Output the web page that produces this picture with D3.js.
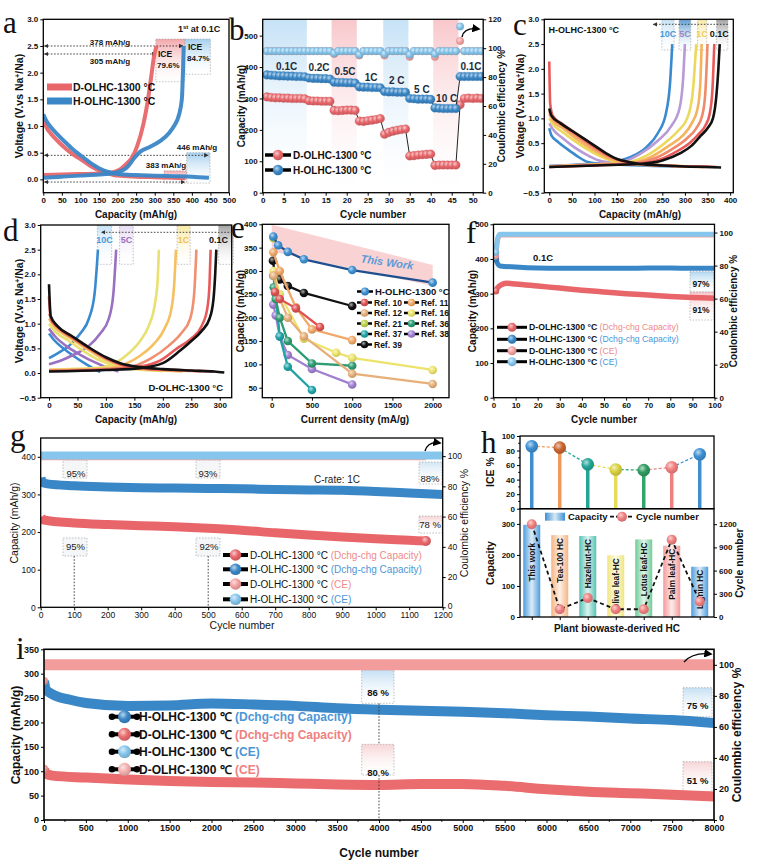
<!DOCTYPE html>
<html><head><meta charset="utf-8">
<script src="https://cdn.jsdelivr.net/npm/d3@7/dist/d3.min.js"></script>
<style>html,body{margin:0;padding:0;background:#fff}</style>
</head><body>
<svg id="fig" width="759" height="865" xmlns="http://www.w3.org/2000/svg"></svg>
<script>
// ================= DATA =================
// (a) first cycle GCD at 0.1C  [capacity mAh/g, voltage V]
const aD_discharge=[[0,1.15],[8,0.98],[20,0.86],[40,0.71],[60,0.58],[80,0.47],[100,0.38],[125,0.26],[150,0.17],[175,0.11],[200,0.07],[250,0.05],[300,0.04],[350,0.03],[383,0.02]];
const aH_discharge=[[0,1.22],[8,1.1],[20,0.98],[40,0.83],[60,0.69],[80,0.56],[100,0.45],[125,0.32],[150,0.21],[175,0.14],[200,0.1],[250,0.08],[300,0.07],[350,0.06],[400,0.05],[446,0.03]];
const aD_charge=[[0,0.08],[50,0.09],[100,0.1],[150,0.11],[185,0.13],[205,0.18],[225,0.3],[238,0.4],[252,0.61],[270,1.05],[282,1.5],[292,2.0],[298,2.3],[305,2.5]];
const aH_charge=[[0,0.03],[50,0.05],[100,0.07],[150,0.09],[190,0.12],[210,0.16],[225,0.22],[245,0.4],[261,0.52],[288,0.61],[315,0.72],[340,0.88],[352,1.0],[365,1.2],[373,1.5],[376,2.0],[378,2.5]];

// (b) rate performance
const bRateLabels=['0.1C','0.2C','0.5C','1C','2 C','5 C','10 C','0.1C'];
const bD_cap=[305,303,302,302,301,301,300,300,300,299, 293,292,292,291,291,291, 262,261,262,263,263,262, 228,227,229,231,233,236, 186,192,196,199,201,203, 117,118,120,121,122,123, 87,88,88,88,88,88, 280,300,301,300,301,300];
const bH_cap=[375,374,373,372,372,371,371,370,370,369, 365,364,364,363,363,362, 352,351,351,350,350,349, 337,336,336,335,335,334, 322,321,321,320,320,320, 300,299,298,298,298,297, 270,269,268,268,268,268, 370,370,370,370,370,370];
const bH_ce=[98,98,98,98,98,98,98,98,98,98, 98,98,98,98,98,98, 96.5,98,98,98,98,98, 95.5,98,98,98,98,98, 96,98,98,98,98,98, 95.5,98,98,98,98,98, 96,98,98,98,98,98, 115,98,98,98,98,98];
const bD_ce=[98,98,98,98,98,98,98,98,98,98, 98,98,98,98,98,98, 96,98,98,98,98,98, 95,98,98,98,98,98, 95,98,98,98,98,98, 94,98,98,98,98,98, 94,98,98,98,98,98, 105,98,98,98,98,98];

// (c) H-OLHC-1300 GCD at rates  (0.1C .. 10C)
const cRates=['0.1C','0.2C','0.5C','1C','2C','5C','10C'];
const cCharge=[
 [[0,0.02],[100,0.05],[200,0.08],[250,0.15],[290,0.3],[315,0.45],[335,0.65],[350,0.8],[362,1.0],[370,1.5],[374,2.0],[377,2.5]],
 [[0,0.02],[100,0.05],[200,0.09],[245,0.17],[285,0.35],[310,0.5],[330,0.68],[345,0.85],[355,1.1],[361,1.6],[365,2.5]],
 [[0,0.02],[100,0.06],[190,0.1],[235,0.2],[275,0.4],[305,0.6],[325,0.8],[338,1.05],[345,1.5],[350,2.5]],
 [[0,0.03],[100,0.07],[180,0.1],[225,0.22],[265,0.45],[295,0.65],[315,0.9],[328,1.2],[334,1.7],[337,2.5]],
 [[0,0.03],[100,0.07],[170,0.11],[215,0.25],[255,0.5],[285,0.75],[305,1.0],[317,1.5],[325,2.5]],
 [[0,0.04],[100,0.08],[160,0.12],[200,0.28],[240,0.55],[270,0.85],[288,1.2],[296,1.8],[300,2.5]],
 [[0,0.04],[80,0.08],[140,0.12],[180,0.22],[215,0.42],[240,0.7],[258,1.1],[267,1.7],[272,2.5]]];
const cDischarge=[
 [[0,1.2],[5,1.05],[25,0.9],[50,0.75],[75,0.6],[100,0.45],[125,0.3],[150,0.18],[175,0.12],[200,0.08],[250,0.05],[300,0.03],[350,0.02],[380,0.01]],
 [[0,2.15],[2,1.3],[8,1.05],[30,0.88],[55,0.72],[80,0.56],[105,0.4],[130,0.26],[155,0.16],[180,0.11],[220,0.07],[280,0.04],[330,0.03],[370,0.02]],
 [[0,1.15],[8,1.0],[30,0.85],[55,0.68],[80,0.52],[105,0.37],[130,0.24],[155,0.15],[190,0.09],[250,0.05],[300,0.03],[355,0.02]],
 [[0,1.1],[8,0.95],[30,0.8],[55,0.62],[80,0.46],[105,0.32],[130,0.2],[160,0.12],[200,0.08],[260,0.05],[340,0.02]],
 [[0,1.0],[8,0.88],[30,0.72],[55,0.55],[80,0.4],[105,0.27],[130,0.17],[165,0.1],[220,0.06],[280,0.04],[328,0.02]],
 [[0,0.9],[8,0.78],[30,0.6],[55,0.42],[80,0.28],[110,0.15],[140,0.1],[180,0.07],[240,0.05],[303,0.03]],
 [[0,0.8],[5,0.65],[20,0.52],[40,0.38],[60,0.25],[85,0.12],[120,0.08],[170,0.06],[230,0.04],[275,0.03]]];

// (d) D-OLHC-1300 GCD at rates (0.1C .. 10C)
const dCharge=[
 [[0,0.03],[100,0.06],[160,0.1],[200,0.2],[230,0.45],[250,0.65],[268,0.85],[282,1.1],[289,1.5],[292,2.0],[294,2.5]],
 [[0,0.04],[100,0.07],[155,0.12],[195,0.25],[225,0.5],[250,0.7],[268,0.95],[278,1.3],[282,1.8],[284,2.5]],
 [[0,0.05],[100,0.08],[145,0.13],[180,0.3],[210,0.55],[232,0.8],[248,1.1],[255,1.6],[259,2.5]],
 [[0,0.06],[90,0.09],[125,0.15],[160,0.35],[185,0.6],[203,0.9],[215,1.3],[220,1.8],[223,2.5]],
 [[0,0.07],[80,0.1],[110,0.17],[140,0.4],[160,0.65],[175,0.95],[186,1.4],[191,1.9],[193,2.5]],
 [[0,0.18],[20,0.25],[45,0.38],[70,0.55],[90,0.8],[105,1.1],[113,1.6],[118,2.5]],
 [[0,0.3],[15,0.4],[35,0.55],[55,0.8],[70,1.1],[80,1.6],[86,2.5]]];
const dDischarge=[
 [[0,1.8],[3,1.15],[15,0.95],[40,0.75],[70,0.52],[100,0.32],[125,0.2],[160,0.12],[200,0.08],[250,0.05],[290,0.03],[308,0.01]],
 [[0,1.55],[3,1.1],[15,0.93],[40,0.72],[70,0.5],[100,0.3],[125,0.18],[160,0.1],[220,0.06],[290,0.03]],
 [[0,1.2],[10,1.0],[35,0.78],[65,0.55],[95,0.33],[120,0.2],[155,0.11],[210,0.06],[268,0.03]],
 [[0,1.1],[10,0.93],[35,0.72],[65,0.5],[90,0.32],[115,0.2],[150,0.1],[200,0.05],[235,0.03]],
 [[0,1.0],[10,0.85],[35,0.65],[60,0.45],[85,0.28],[110,0.17],[140,0.09],[200,0.04]],
 [[0,0.9],[10,0.75],[30,0.55],[55,0.37],[80,0.22],[100,0.12],[122,0.03]],
 [[0,0.8],[8,0.68],[25,0.5],[45,0.33],[65,0.18],[80,0.08],[90,0.02]]];

// (e) rate comparison [current density mA/g, capacity mAh/g]
const eNames=['H-OLHC-1300 °C','Ref. 10','Ref. 11','Ref. 12','Ref. 16','Ref. 21','Ref. 36','Ref. 37','Ref. 38','Ref. 39'];
const eSeries=[
 [[20,374],[80,355],[200,341],[400,325],[1000,302],[2000,275]],
 [[40,255],[100,240],[300,220],[600,180]],
 [[20,340],[100,300],[300,222],[500,175],[1000,152]],
 [[25,290],[100,240],[200,200],[400,160],[1000,80],[2000,58]],
 [[25,300],[100,250],[400,155],[800,125],[1000,114],[2000,88]],
 [[20,371]],
 [[25,265],[50,240],[100,200],[200,150],[500,102],[1000,97]],
 [[20,290],[50,250],[100,160],[200,95],[500,45]],
 [[20,228],[50,205],[100,160],[200,120],[500,90],[1000,57]],
 [[15,322],[35,297],[100,282],[200,268],[400,253],[1000,225]]];
const eBand=[[0,342,399],[2000,268,313]];

// (f) cycling 0.1C
const fH_cap=[[1,400],[2,385],[3,380],[10,377],[20,374],[30,373],[40,373],[50,373],[60,373],[70,374],[80,374],[90,373],[100,373]];
const fD_cap=[[1,308],[2,318],[4,327],[6,330],[10,328],[20,322],[30,316],[40,310],[50,305],[60,300],[70,296],[80,292],[90,289],[100,287]];
const fH_ce=[[1,88],[2,97],[3,99],[20,99],[40,99],[60,99],[80,99],[100,99]];
const fD_ce=[[1,86],[2,96],[3,98.5],[20,98.5],[40,98.5],[60,98.5],[80,98.5],[100,98.5]];

// (g) cycling 1C
const gH_cap=[[1,345],[5,332],[20,328],[100,323],[200,320],[300,318],[400,317],[500,316],[600,315],[700,313],[800,312],[900,311],[1000,308],[1100,304],[1200,300]];
const gD_cap=[[1,240],[10,232],[100,224],[200,220],[300,217],[400,214],[500,210],[600,205],[700,198],[800,192],[900,187],[1000,182],[1100,178],[1150,176]];
const gH_ce=[[1,100.5],[300,100.5],[600,100.5],[900,100.5],[1200,100.5]];
const gD_ce=[[1,100],[300,100],[600,100],[900,100],[1150,100]];

// (h) comparison
const hCats=['This  work','Tea-100 HC','Hazelnut-HC','Olive leaf-HC','Lotus leaf-HC','Palm leaf-HC','Lignin HC'];
const hICE=[86,84,61,54,53,57,75];
const hCap=[297,264,261,199,250,230,162];
const hCycles=[1200,100,245,100,100,1000,200];

// (i) long cycling
const iH_cap=[[1,285],[20,268],[100,258],[300,247],[500,240],[1000,234],[1500,235],[2000,239],[2500,237],[3000,234],[3500,229],[4000,226],[4500,224],[5000,222],[5500,219],[6000,215],[6500,212],[7000,208],[7500,205],[8000,199]];
const iD_cap=[[1,105],[20,95],[100,91],[500,87],[1000,83],[1500,80],[2000,78],[2500,77],[3000,75],[3500,73],[4000,72],[4500,74],[5000,74],[5500,70],[6000,63],[6500,58],[7000,55],[7500,52],[8000,48]];
const iD_ce=[[1,100],[2000,100],[4000,100],[6000,100],[8000,100]];

// ================= HELPERS =================
const svg=d3.select('#fig').attr('font-family','Arial, "Liberation Sans", Helvetica, sans-serif');
const defs=svg.append('defs');
const RED='#e8666a', BLUE='#3a87c7', LBLUE='#86c5ec', PINK='#f3a0a0';
const rateCols=['#111111','#e85a5a','#f08a6a','#f5b35e','#ecd95c','#b79ad6','#3a8ad0'];
const rateColsD=['#111111','#e85a5a','#f09070','#f5c060','#e8e070','#9a70c0','#3a8ad0'];
let gid=0;
const ballCache={};
function ball(col){
  if(!ballCache[col]){const id='ball'+(gid++);
    const g=defs.append('radialGradient').attr('id',id).attr('cx',0.38).attr('cy',0.35).attr('r',0.7);
    g.append('stop').attr('offset',0).attr('stop-color',d3.interpolateRgb(col,'#fff')(0.65));
    g.append('stop').attr('offset',0.5).attr('stop-color',col);
    g.append('stop').attr('offset',1).attr('stop-color',d3.color(col).darker(0.5)+'');
    ballCache[col]=`url(#${id})`;}
  return ballCache[col];
}
function vgrad(col,op=1){const id='vg'+(gid++);
  const g=defs.append('linearGradient').attr('id',id).attr('x1',0).attr('x2',0).attr('y1',0).attr('y2',1);
  g.append('stop').attr('offset',0).attr('stop-color',col).attr('stop-opacity',op);
  g.append('stop').attr('offset',1).attr('stop-color','#fff').attr('stop-opacity',0.2);
  return `url(#${id})`;}
function hgrad(col){const id='hg'+(gid++);
  const g=defs.append('linearGradient').attr('id',id).attr('x1',0).attr('x2',1).attr('y1',0).attr('y2',0);
  g.append('stop').attr('offset',0).attr('stop-color',col);
  g.append('stop').attr('offset',0.5).attr('stop-color',d3.interpolateRgb(col,'#fff')(0.8));
  g.append('stop').attr('offset',1).attr('stop-color',col);
  return `url(#${id})`;}
function clip(x0,y0,x1,y1){const id='cl'+(gid++);
  defs.append('clipPath').attr('id',id).append('rect').attr('x',x0).attr('y',y0).attr('width',x1-x0).attr('height',y1-y0);
  return svg.append('g').attr('clip-path',`url(#${id})`);}
defs.append('marker').attr('id','arr').attr('viewBox','0 0 10 10').attr('refX',9).attr('refY',5)
  .attr('markerWidth',5).attr('markerHeight',5).attr('orient','auto-start-reverse')
  .append('path').attr('d','M0,0L10,5L0,10z').attr('fill','#333');
defs.append('marker').attr('id','arrB').attr('viewBox','0 0 10 10').attr('refX',8).attr('refY',5)
  .attr('markerWidth',6).attr('markerHeight',6).attr('orient','auto')
  .append('path').attr('d','M0,0L10,5L0,10z').attr('fill','#000');

function txt(x,y,s,o={}){
  const t=svg.append('text').attr('x',x).attr('y',y).attr('font-size',o.fs||9)
   .attr('font-weight',o.fw||'bold').attr('fill',o.fill||'#111').attr('text-anchor',o.a||'start');
  if(s!==null) t.text(s);
  if(o.rot) t.attr('transform',`rotate(${o.rot},${x},${y})`);
  if(o.it) t.attr('font-style','italic');
  if(o.ff) t.attr('font-family',o.ff);
  return t;}
function frame(x0,y0,x1,y1,w=1.3){svg.append('rect').attr('x',x0).attr('y',y0).attr('width',x1-x0).attr('height',y1-y0)
  .attr('fill','none').attr('stroke','#000').attr('stroke-width',w);}
function styleAx(g,fs,fw){g.select('.domain').remove();
  g.attr('font-family',null).attr('font-size',null);
  g.selectAll('text').attr('font-size',fs).attr('font-weight',fw||'bold').attr('fill','#111');
  g.selectAll('line').attr('stroke','#000').attr('stroke-width',1);}
function axB(sc,yp,vals,fmt,fs=8,fw){const g=svg.append('g').attr('transform',`translate(0,${yp})`)
  .call(d3.axisBottom(sc).tickValues(vals).tickFormat(fmt||d3.format('d')).tickSize(3).tickPadding(2).tickSizeOuter(0));styleAx(g,fs,fw);return g;}
function axL(sc,xp,vals,fmt,fs=8,fw){const g=svg.append('g').attr('transform',`translate(${xp},0)`)
  .call(d3.axisLeft(sc).tickValues(vals).tickFormat(fmt||d3.format('d')).tickSize(3).tickPadding(2).tickSizeOuter(0));styleAx(g,fs,fw);return g;}
function axR(sc,xp,vals,fmt,fs=8,fw){const g=svg.append('g').attr('transform',`translate(${xp},0)`)
  .call(d3.axisRight(sc).tickValues(vals).tickFormat(fmt||d3.format('d')).tickSize(3).tickPadding(2).tickSizeOuter(0));styleAx(g,fs,fw);return g;}
function minor(sc,pos,vals,orient){
  vals.forEach(v=>{const p=sc(v);
    if(orient==='b') svg.append('line').attr('x1',p).attr('x2',p).attr('y1',pos).attr('y2',pos+1.8).attr('stroke','#000');
    if(orient==='l') svg.append('line').attr('y1',p).attr('y2',p).attr('x1',pos).attr('x2',pos-1.8).attr('stroke','#000');
    if(orient==='r') svg.append('line').attr('y1',p).attr('y2',p).attr('x1',pos).attr('x2',pos+1.8).attr('stroke','#000');});}
function yTitle(x,y,parts,fs=10,fw){const t=txt(x,y,null,{fs,a:'middle',rot:-90,fw});
  parts.forEach(p=>{const ts=t.append('tspan').text(p[0]); if(p[1]) ts.attr('baseline-shift','super').attr('font-size',fs*0.65);});return t;}
function label(x,y,s){txt(x,y,s,{fs:31,fw:'normal',ff:'"Liberation Serif","Times New Roman",serif'});}
const ln=(x,y,c=d3.curveMonotoneX)=>d3.line().x(d=>x(d[0])).y(d=>y(d[1])).curve(c);
function dotted(x1,y1,x2,y2,arrowEnd,arrowStart){const l=svg.append('line').attr('x1',x1).attr('y1',y1).attr('x2',x2).attr('y2',y2)
  .attr('stroke','#333').attr('stroke-width',0.9).attr('stroke-dasharray','1.6,1.6');
  if(arrowEnd) l.attr('marker-end','url(#arr)'); if(arrowStart) l.attr('marker-start','url(#arr)'); return l;}
function boxR(x0,y0,x1,y1,fill,dash=true){svg.append('rect').attr('x',Math.min(x0,x1)).attr('y',Math.min(y0,y1))
  .attr('width',Math.abs(x1-x0)).attr('height',Math.abs(y1-y0)).attr('fill',fill)
  .attr('stroke',dash?'#999':'none').attr('stroke-width',0.6).attr('stroke-dasharray','1.5,1.5');}
function curvedArrow(x0,y0,x1,y1,cx,cy){svg.append('path').attr('d',`M${x0},${y0}Q${cx},${cy} ${x1},${y1}`)
  .attr('fill','none').attr('stroke','#000').attr('stroke-width',1.4).attr('marker-end','url(#arrB)');}
function legRow(x,y,col,main,suffix,sufCol,fs,o={}){
  const L=o.len||28, r=o.r||5;
  svg.append('line').attr('x1',x).attr('x2',x+L).attr('y1',y).attr('y2',y).attr('stroke','#000').attr('stroke-width',o.lw||3);
  if(o.dots){[x,x+L].forEach(px=>svg.append('circle').attr('cx',px).attr('cy',y).attr('r',3.3).attr('fill','#000'));}
  svg.append('circle').attr('cx',x+L/2).attr('cy',y).attr('r',r).attr('fill',ball(col));
  const t=txt(x+L+2,y+fs*0.36,null,{fs,fw:o.fw});
  t.append('tspan').text(main);
  if(suffix){t.append('tspan').text(suffix).attr('fill',sufCol).attr('font-weight',o.sufW||'normal');}
}

// ================= PANEL A =================
{
const x=d3.scaleLinear([0,500],[43.3,229]), y=d3.scaleLinear([-0.25,3],[192.7,19.3]);
const pinkV=vgrad('#f3a2a6',0.95), blueV=vgrad('#9fcdee',0.95);
boxR(x(303),y(2.63),x(381),y(1.83),pinkV);
boxR(x(381),y(2.63),x(450),y(1.97),blueV);
boxR(x(386),y(0.5),x(449),y(-0.07),blueV);
boxR(x(325),y(0.16),x(386),y(-0.07),pinkV);
dotted(x(3),y(2.5),x(376),y(2.5),true,true);
dotted(x(3),y(2.35),x(303),y(2.35),true,true);
dotted(x(3),y(0.45),x(444),y(0.45),true,true);
dotted(x(3),y(-0.05),x(381),y(-0.05),true,true);
const g=clip(43.3,19.3,229,192.7);
[[aD_discharge,RED],[aD_charge,RED],[aH_discharge,BLUE],[aH_charge,BLUE]].forEach(([d,c])=>
  g.append('path').attr('d',ln(x,y)(d)).attr('fill','none').attr('stroke',c).attr('stroke-width',4).attr('stroke-opacity',0.95));
frame(43.3,19.3,229,192.7);
axB(x,192.7,d3.range(0,501,50));
axL(y,43.3,[0,0.5,1,1.5,2,2.5,3],d3.format('.1f'));
txt(110,44.5,'378 mAh/g',{fs:8,a:'middle'});
txt(110,64,'305 mAh/g',{fs:8,a:'middle'});
txt(158,57,'ICE',{fs:8.5});txt(157,68,'79.6%',{fs:8});
txt(188,50,'ICE',{fs:8.5});txt(187,61,'84.7%',{fs:8});
txt(197,150,'446 mAh/g',{fs:8,a:'middle'});
txt(166,168,'383 mAh/g',{fs:8,a:'middle'});
const t=txt(178,32,null,{fs:9});t.append('tspan').text('1');t.append('tspan').text('st').attr('baseline-shift','super').attr('font-size',6);t.append('tspan').text(' at 0.1C');
[[87,RED,'D-OLHC-1300 °C'],[101,BLUE,'H-OLHC-1300 °C']].forEach(([yy,c,s])=>{
  svg.append('line').attr('x1',47).attr('x2',72).attr('y1',yy).attr('y2',yy).attr('stroke',c).attr('stroke-width',7);
  txt(73,yy+3.8,s,{fs:10.5});});
yTitle(23,106,[['Voltage (V.vs Na'],['+',1],['/Na)']],10.5);
txt(136,218,'Capacity (mAh/g)',{fs:10,a:'middle'});
label(3,33,'a');
}

// ================= PANEL B =================
{
const x=d3.scaleLinear([0,52.5],[262.7,483.2]), y=d3.scaleLinear([0,552],[192.7,19.3]), y2=d3.scaleLinear([0,120],[192.7,19.3]);
const sb=vgrad('#c6e2f6',1), sp=vgrad('#f8c7cb',1);
[[0,10.5,sb],[16.4,22.4,sp],[28.7,34.7,sb],[40.6,46.6,sp]].forEach(([a,b,f])=>
  svg.append('rect').attr('x',x(a)).attr('width',x(b)-x(a)).attr('y',19.3).attr('height',173.4).attr('fill',f));
const g=clip(262.7,19.3,483.2,192.7);
const cyc=bD_cap.map((d,i)=>i+1);
const drawSeries=(vals,sc,col,r,withLine)=>{
  const pts=vals.map((v,i)=>[cyc[i],v]);
  if(withLine) g.append('path').attr('d',ln(x,sc,d3.curveLinear)(pts)).attr('fill','none').attr('stroke','#222').attr('stroke-width',1);
  g.selectAll(null).data(pts).enter().append('circle').attr('cx',d=>x(d[0])).attr('cy',d=>sc(d[1])).attr('r',r)
    .attr('fill',ball(col)).attr('stroke',d3.color(col).darker(0.4)).attr('stroke-width',0.3);};
drawSeries(bD_ce,y2,PINK,3.8,false);
drawSeries(bH_ce,y2,LBLUE,3.8,false);
drawSeries(bD_cap,y,RED,4.3,true);
drawSeries(bH_cap,y,BLUE,4.3,true);
frame(262.7,19.3,483.2,192.7);
axB(x,192.7,d3.range(0,51,5));
axL(y,262.7,d3.range(0,501,100));
axR(y2,483.2,d3.range(0,121,20));
const lp=[[5.7,401],[13.4,397],[19.6,387],[25.8,368],[31.9,356],[37.9,330],[43.8,301],[49.6,403]];
bRateLabels.forEach((s,i)=>txt(x(lp[i][0]),y(lp[i][1])+3.5,s,{fs:10,a:'middle',fill:'#1d2b3a'}));
legRow(265,155,RED,'D-OLHC-1300 °C',null,null,10,{len:26,r:5.2,lw:3.5});
legRow(265,170,BLUE,'H-OLHC-1300 °C',null,null,10,{len:26,r:5.2,lw:3.5});
curvedArrow(462,37,479,29,464,27);
yTitle(245,106,[['Capacity (mAh/g)']],10);
yTitle(505,106,[['Coulombic efficiency %']],10);
txt(373,218,'Cycle number',{fs:10,a:'middle'});
label(229,40,'b');
}

// ================= PANEL C =================
{
const x=d3.scaleLinear([-11,407],[544.3,733.3]), y=d3.scaleLinear([-0.5,3],[192.7,19.3]);
const boxes=[[249,276,'#bfe0f5','10C','#4a9ad8'],[287,313,'#4f95d0','5C','#9a88c8'],[328,348,'#f8e79a','1C','#ecd060'],[370,395,'#9a9a9a','0.1C','#111']];
boxes.forEach(([a,b,c])=>boxR(x(a),y(2.99),x(b),y(2.38),vgrad(c,0.9)));
const g=clip(544.3,19.3,733.3,192.7);
for(let i=cCharge.length-1;i>=0;i--){
  [cDischarge[i],cCharge[i]].forEach(d=>g.append('path').attr('d',ln(x,y)(d)).attr('fill','none').attr('stroke',rateCols[i]).attr('stroke-width',2.6));}
frame(544.3,19.3,733.3,192.7);
axB(x,192.7,d3.range(0,401,50));
axL(y,544.3,d3.range(-0.5,3.01,0.5),d3.format('.1f'));
dotted(x(395),24.3,x(230),24.3,true,false);
boxes.forEach(([a,b,c,s,tc],i)=>txt((x(a)+x(b))/2+(i===3?-3:0),36.5,s,{fs:9,a:'middle',fill:tc}));
txt(548.5,32.5,'H-OLHC-1300 °C',{fs:9});
yTitle(524,106,[['Voltage (V.vs Na'],['+',1],['/Na)']],10.5);
txt(640,218,'Capacity (mAh/g)',{fs:10,a:'middle'});
label(513,35,'c');
}

// ================= PANEL D =================
{
const x=d3.scaleLinear([-14.6,321],[40.7,231.7]), y=d3.scaleLinear([-0.5,3],[397.7,225]);
const boxes=[[85,110,'#bfe0f5','10C','#4a9ad8'],[124,148,'#e6d8f2','5C','#9a70c0'],[225,248,'#f8e79a','1C','#f0c050'],[298,324,'#9a9a9a','0.1C','#111']];
boxes.forEach(([a,b,c])=>boxR(x(a),225.5,x(b),264.3,vgrad(c,0.9)));
const g=clip(40.7,225,231.7,397.7);
for(let i=dCharge.length-1;i>=0;i--){
  [dDischarge[i],dCharge[i]].forEach(d=>g.append('path').attr('d',ln(x,y)(d)).attr('fill','none').attr('stroke',rateColsD[i]).attr('stroke-width',2.6));}
frame(40.7,225,231.7,397.7);
axB(x,397.7,d3.range(0,301,50));
axL(y,40.7,d3.range(-0.5,3.01,0.5),d3.format('.1f'));
dotted(x(322),232.3,x(92),232.3,true,false);
boxes.forEach(([a,b,c,s,tc],i)=>txt((x(a)+x(b))/2+(i===3?-7.5:0),242.5,s,{fs:9,a:'middle',fill:tc}));
txt(223,390.5,'D-OLHC-1300 °C',{fs:9.5,a:'end'});
yTitle(23,311,[['Voltage (V.vs Na'],['+',1],['/Na)']],10.5);
txt(136,423,'Capacity (mAh/g)',{fs:10,a:'middle'});
label(3,241,'d');
}

// ================= PANEL E =================
{
const x=d3.scaleLinear([-117,2203],[262.3,449]), y=d3.scaleLinear([28.6,400],[397.7,224.3]);
const eCols=['#3d8fd1','#e05252','#f0a868','#e7b07a','#ece36a','#bcd24a','#2e9c72','#1fa3a6','#a07fd0','#111111'];
const lineCols=['#1f4f8f','#e05252','#f0a868','#e7b07a','#ece36a','#bcd24a','#2e9c72','#1fa3a6','#a07fd0','#111111'];
const g=clip(262.3,224.3,449,397.7);
g.append('path').attr('d',d3.area().x(d=>x(d[0])).y0(d=>y(d[1])).y1(d=>y(d[2]))(eBand)).attr('fill','#f7c3c6').attr('opacity',0.75);
const order=[9,8,7,6,5,4,3,2,1,0];
order.forEach(i=>{const d=eSeries[i];
  g.append('path').attr('d',ln(x,y,d3.curveLinear)(d)).attr('fill','none').attr('stroke',lineCols[i]).attr('stroke-width',2.3);
  g.selectAll(null).data(d).enter().append('circle').attr('cx',p=>x(p[0])).attr('cy',p=>y(p[1])).attr('r',4.3).attr('fill',ball(eCols[i]));});
frame(262.3,224.3,449,397.7);
axB(x,397.7,d3.range(0,2001,500));
axL(y,262.3,d3.range(50,401,50));
txt(386.5,266,'This Work',{fs:11,a:'middle',it:true,fill:'#5a9ad8',rot:8});
legRow(357,291.5,eCols[0],eNames[0],null,null,9.5,{len:16,r:4,lw:2.5});
const legPos=[[1,357,302.5],[3,357,313],[5,357,323.5],[7,357,334],[9,357,344.5],[2,404,302.5],[4,404,313],[6,404,323.5],[8,404,334]];
legPos.forEach(([i,lx,ly])=>legRow(lx,ly,eCols[i],eNames[i],null,null,8.5,{len:15,r:3.8,lw:2.5}));
yTitle(244,311,[['Capacity (mAh/g)']],10);
txt(355,423,'Current density (mA/g)',{fs:10,a:'middle'});
label(231,238,'e');
}

// ================= PANEL F =================
{
const x=d3.scaleLinear([0,100],[493.5,714.5]), y=d3.scaleLinear([0,500],[397.7,224.3]), y2=d3.scaleLinear([0,105],[397.7,224.3]);
boxR(690,271.7,714,292,vgrad('#a9d3ee',0.9));
boxR(690,292,714,320,vgrad('#f6c0c3',0.9));
const g=clip(493.5,224.3,714.5,397.7);
const band=(d,sc,c,w)=>g.append('path').attr('d',ln(x,sc)(d)).attr('fill','none').attr('stroke',c).attr('stroke-width',w);
band(fD_ce,y2,PINK,5);band(fH_ce,y2,LBLUE,5);
band(fD_cap,y,RED,5.5);band(fH_cap,y,BLUE,5);
[[fD_cap,y,RED],[fH_cap,y,BLUE],[fD_ce,y2,PINK],[fH_ce,y2,LBLUE]].forEach(([d,sc,c])=>
  g.append('circle').attr('cx',x(d[0][0])).attr('cy',sc(d[0][1])).attr('r',3.5).attr('fill',ball(c)));
frame(493.5,224.3,714.5,397.7);
axB(x,397.7,d3.range(0,101,10));
axL(y,493.5,d3.range(0,501,100));
axR(y2,714.5,d3.range(0,101,20));
txt(543,261,'0.1C',{fs:9.5,a:'middle'});
txt(701,287,'97%',{fs:8.5,a:'middle'});
txt(701,312.5,'91%',{fs:8.5,a:'middle'});
legRow(497,327.3,RED,'D-OLHC-1300 °C ','(Dchg-chg Capacity)','#ef8a8a',8.7,{len:30,r:4.5,lw:3});
legRow(497,339.3,BLUE,'H-OLHC-1300 °C ','(Dchg-chg Capacity)','#4d96d6',8.7,{len:30,r:4.5,lw:3});
legRow(497,350.7,PINK,'D-OLHC-1300 °C ','(CE)','#ef8a8a',8.7,{len:30,r:4.5,lw:3});
legRow(497,361.7,LBLUE,'H-OLHC-1300 °C ','(CE)','#4d96d6',8.7,{len:30,r:4.5,lw:3});
yTitle(476,311,[['Capacity (mAh/g)']],10);
yTitle(737,311,[['Coulombic efficiency %']],10);
txt(604,423,'Cycle number',{fs:10,a:'middle'});
label(466,243,'f');
}

// ================= PANEL G =================
{
const x=d3.scaleLinear([0,1200],[40.7,442.7]), y=d3.scaleLinear([0,450],[607.3,438]), y2=d3.scaleLinear([0,112],[607.3,438]);
boxR(63,460,87,478,'#f4f6f8');boxR(196,460,220,478,'#f4f6f8');
boxR(419,462,442,484,vgrad('#cfe3f2',0.9));boxR(419,516,442,533,vgrad('#f6d2d4',0.9));
boxR(63,538,87,556,'#f4f6f8');boxR(196,538,220,556,'#f4f6f8');
const g=clip(40.7,438,442.7,607.3);
const band=(d,sc,c,w)=>g.append('path').attr('d',ln(x,sc)(d)).attr('fill','none').attr('stroke',c).attr('stroke-width',w);
band(gD_ce,y2,PINK,8);band(gH_ce,y2,LBLUE,8);
band(gD_cap,y,RED,9);band(gH_cap,y,BLUE,9);
g.append('circle').attr('cx',x(gD_cap[gD_cap.length-1][0])).attr('cy',y(gD_cap[gD_cap.length-1][1])).attr('r',5).attr('fill',ball(RED));
dotted(x(100),556,x(100),607,false,false);dotted(x(500),556,x(500),607,false,false);
frame(40.7,438,442.7,607.3);
axB(x,607.3,d3.range(0,1201,100),null,8.5,'normal');
axL(y,40.7,d3.range(0,401,100),null,8.5,'normal');
const gr=axR(y2,442.7,d3.range(0,101,20),null,8.5,'normal');
gr.selectAll('text').filter(d=>d===0).attr('dy','0.1em');
[[76,476.5,'95%'],[208,476.5,'93%'],[430,481.5,'88%'],[430,527.5,'78 %'],[75.5,550,'95%'],[209,550,'92%']].forEach(([a,b,s])=>txt(a,b,s,{fs:9.5,fw:'normal',a:'middle',fill:'#222'}));
txt(337,482.5,'C-rate: 1C',{fs:10,fw:'normal',a:'middle',fill:'#222'});
const lo={len:25,r:5.8,lw:4,fw:'normal'};
legRow(223,555,RED,'D-OLHC-1300 °C ','(Dchg-chg Capacity)','#ef8a8a',10,lo);
legRow(223,569.3,BLUE,'H-OLHC-1300 °C ','(Dchg-chg Capacity)','#4d96d6',10,lo);
legRow(223,584,PINK,'D-OLHC-1300 °C ','(CE)','#ef8a8a',10,lo);
legRow(223,599.3,LBLUE,'H-OLHC-1300 °C ','(CE)','#4d96d6',10,lo);
curvedArrow(425,451,440,443,428,441);
yTitle(18,523,[['Capacity (mAh/g)']],10.5,'normal');
yTitle(468,523,[['Coulombic efficiency %']],10.5,'normal');
txt(242,629,'Cycle number',{fs:10.5,a:'middle',fw:'normal'});
label(10,446,'g');
}

// ================= PANEL H =================
{
const hCols=['#3d8fd1','#f09a5a','#23a596','#e6dc5a','#33a56a','#f07f7f','#3d8fd1'];
const hBall=['#3d8fd1','#c8642e','#23a596','#d8d040','#2e9a60','#f07f7f','#3d8fd1'];
const hBar=['#4f9ddc','#f6b483','#56c2b4','#efe67e','#6fcc98','#f49a9a','#4f9ddc'];
const x=d3.scaleLinear([-0.42,6.51],[520,714]);
const yT=d3.scaleLinear([0,100],[508.7,436]);
const yB=d3.scaleLinear([0,349],[617,508.7]), yC=d3.scaleLinear([0,1400],[617,508.7]);
hICE.forEach((v,i)=>{
  svg.append('line').attr('x1',x(i)).attr('x2',x(i)).attr('y1',yT(0)).attr('y2',yT(v)).attr('stroke',hCols[i]).attr('stroke-width',3.5);
  if(i<hICE.length-1) svg.append('line').attr('x1',x(i)).attr('x2',x(i+1)).attr('y1',yT(v)).attr('y2',yT(hICE[i+1]))
    .attr('stroke',hCols[i+1]).attr('stroke-width',1.3).attr('stroke-dasharray','3,2');});
hICE.forEach((v,i)=>svg.append('circle').attr('cx',x(i)).attr('cy',yT(v)).attr('r',6.3).attr('fill',ball(hBall[i])));
frame(520,436,714,508.7);
axL(yT,520,d3.range(0,101,20));
minor(yT,520,d3.range(10,100,20),'l');
hCap.forEach((v,i)=>{
  svg.append('rect').attr('x',x(i)-8.5).attr('width',17).attr('y',yB(v)).attr('height',yB(0)-yB(v)).attr('fill',hgrad(hBar[i]));
  const off=i===0?18:3;
  txt(x(i)+3.2,yB(v)+off,hCats[i],{fs:8.3,a:'end',rot:-90});});
svg.append('path').attr('d',ln(x,yC,d3.curveLinear)(hCycles.map((v,i)=>[i,v]))).attr('fill','none').attr('stroke','#111').attr('stroke-width',1.8).attr('stroke-dasharray','4,3');
hCycles.forEach((v,i)=>svg.append('circle').attr('cx',x(i)).attr('cy',yC(v)).attr('r',5).attr('fill',ball('#f07f7f')));
frame(520,508.7,714,617);
axL(yB,520,[0,100,200,300]);
axR(yC,714,[0,300,600,900,1200]);
axB(x,617,d3.range(0,7,1),()=>'' );
svg.append('rect').attr('x',545).attr('y',512.7).attr('width',20).attr('height',8).attr('fill',hgrad('#3d8fd1'));
txt(568,520,'Capacity',{fs:9.5});
svg.append('line').attr('x1',610).attr('x2',634).attr('y1',516.7).attr('y2',516.7).attr('stroke','#111').attr('stroke-width',1.8).attr('stroke-dasharray','4,2');
svg.append('circle').attr('cx',622).attr('cy',516.7).attr('r',5).attr('fill',ball('#f07f7f'));
txt(636,520,'Cycle number',{fs:9.5});
yTitle(494,472,[['ICE %']],10.5);
yTitle(494,563,[['Capacity']],10.5);
yTitle(743,563,[['Cycle number']],10.5);
txt(617,632,'Plant biowaste-derived HC',{fs:10,a:'middle'});
label(481,453,'h');
}

// ================= PANEL I =================
{
const x=d3.scaleLinear([0,8000],[44,714]), y=d3.scaleLinear([0,350],[820,649.3]), y2=d3.scaleLinear([0,110],[820,649.3]);
boxR(361.7,670,394,703.3,vgrad('#bfdcf2',0.9));
boxR(361.7,744.3,394,775,vgrad('#f6d0d2',0.9));
boxR(683,687.7,712,716.7,vgrad('#bfdcf2',0.9));
boxR(683,761.7,712,791.7,vgrad('#f6d0d2',0.9));
const g=clip(44,649.3,714,820);
const band=(d,sc,c,w)=>g.append('path').attr('d',ln(x,sc)(d)).attr('fill','none').attr('stroke',c).attr('stroke-width',w);
band(iD_ce,y2,'#f29c9c',11);
band(iH_cap,y,BLUE,10);
band(iD_cap,y,'#ea6c6e',10);
g.append('circle').attr('cx',x(iH_cap[0][0])).attr('cy',y(iH_cap[0][1])).attr('r',4).attr('fill',ball('#f29c9c'));
g.append('circle').attr('cx',x(iD_cap[0][0])).attr('cy',y(iD_cap[0][1])).attr('r',4).attr('fill',ball('#f29c9c'));
dotted(x(4000),703.3,x(4000),744.3,false,false);dotted(x(4000),775,x(4000),820,false,false);
frame(44,649.3,714,820,1.6);
axB(x,820,d3.range(0,8001,500),null,9);
axL(y,44,d3.range(0,351,50),null,9);
const ir=axR(y2,714,d3.range(0,101,20),null,9);
ir.selectAll('text').filter(d=>d===0).attr('dy','0.1em');
minor(x,820,d3.range(250,8000,500),'b');
txt(378,695.5,'86 %',{fs:9.5,a:'middle'});
txt(378,775.5,'80 %',{fs:9.5,a:'middle'});
txt(697.5,709,'75 %',{fs:9.5,a:'middle'});
txt(697.5,784,'51 %',{fs:9.5,a:'middle'});
const o={len:25,r:6.5,lw:4,dots:true,sufW:'bold'};
legRow(112,716.7,BLUE,'H-OLHC-1300 ℃ ','(Dchg-chg Capacity)','#4d96d6',12,o);
legRow(112,734.3,'#ea6c6e','D-OLHC-1300 ℃ ','(Dchg-chg Capacity)','#ef8080',12,o);
legRow(112,751.7,LBLUE,'H-OLHC-1300 ℃ ','(CE)','#4d96d6',12,o);
legRow(112,769.3,'#f5b0b0','D-OLHC-1300 ℃ ','(CE)','#ef8080',12,o);
curvedArrow(684,662,711,654,693,652);
yTitle(20,735,[['Capacity (mAh/g)']],12);
yTitle(741,735,[['Coulombic efficiency %']],12);
txt(379,857,'Cycle number',{fs:12,a:'middle'});
label(16,659,'i');
}
</script>
</body></html>
